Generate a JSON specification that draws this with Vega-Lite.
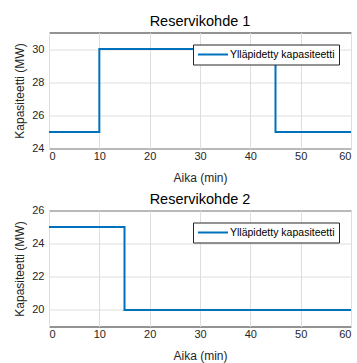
{
  "$schema": "https://vega.github.io/schema/vega-lite/v6.json",
  "background": "white",
  "padding": {"left": 13, "top": 12.5, "right": 0, "bottom": 0},
  "spacing": 7,
  "config": {
    "font": "Liberation Sans",
    "view": {"stroke": "#262626", "strokeWidth": 1},
    "axis": {
      "labelFont": "Liberation Sans",
      "labelFontSize": 11,
      "labelColor": "#262626",
      "titleFont": "Liberation Sans",
      "titleFontSize": 12,
      "titleFontWeight": "normal",
      "titleColor": "#262626",
      "gridColor": "#dedede",
      "gridOpacity": 1,
      "domain": false,
      "ticks": false
    },
    "axisX": {"titlePadding": 11, "labelPadding": 2},
    "axisY": {"titlePadding": 5, "labelPadding": 5},
    "title": {"font": "Liberation Sans", "fontSize": 14.5, "fontWeight": "normal", "color": "#000000", "frame": "group", "anchor": "middle"},
    "legend": {
      "orient": "top-right",
      "offset": 12,
      "title": null,
      "strokeColor": "#262626",
      "fillColor": "white",
      "padding": 4,
      "cornerRadius": 0,
      "symbolType": "M-1,0H5",
      "symbolSize": 100,
      "symbolStrokeWidth": 2,
      "labelOffset": 21,
      "labelFont": "Liberation Sans",
      "labelFontSize": 10.5,
      "labelColor": "#000000"
    }
  },
  "data": {
    "values": [
      {"kohde": 1, "aika": 0, "kapasiteetti": 25},
      {"kohde": 1, "aika": 10, "kapasiteetti": 30},
      {"kohde": 1, "aika": 45, "kapasiteetti": 25},
      {"kohde": 1, "aika": 60, "kapasiteetti": 25},
      {"kohde": 2, "aika": 0, "kapasiteetti": 25},
      {"kohde": 2, "aika": 15, "kapasiteetti": 20},
      {"kohde": 2, "aika": 60, "kapasiteetti": 20}
    ]
  },
  "vconcat": [
    {
      "title": {"text": "Reservikohde 1", "offset": 3.5},
      "width": 302,
      "height": 116,
      "transform": [{"filter": "datum.kohde == 1"}],
      "mark": {"type": "line", "interpolate": "step-after", "strokeWidth": 2},
      "encoding": {
        "x": {"field": "aika", "type": "quantitative", "scale": {"domain": [0, 60], "nice": false}, "axis": {"values": [0, 10, 20, 30, 40, 50, 60], "title": "Aika (min)"}},
        "y": {"field": "kapasiteetti", "type": "quantitative", "scale": {"domain": [24, 31], "nice": false, "zero": false}, "axis": {"values": [24, 26, 28, 30], "title": "Kapasiteetti (MW)"}},
        "color": {"datum": "Ylläpidetty kapasiteetti", "type": "nominal", "scale": {"range": ["#0072BD"]}}
      }
    },
    {
      "title": {"text": "Reservikohde 2", "offset": -3},
      "width": 302,
      "height": 116,
      "transform": [{"filter": "datum.kohde == 2"}],
      "mark": {"type": "line", "interpolate": "step-after", "strokeWidth": 2},
      "encoding": {
        "x": {"field": "aika", "type": "quantitative", "scale": {"domain": [0, 60], "nice": false}, "axis": {"values": [0, 10, 20, 30, 40, 50, 60], "title": "Aika (min)"}},
        "y": {"field": "kapasiteetti", "type": "quantitative", "scale": {"domain": [19, 26], "nice": false, "zero": false}, "axis": {"values": [20, 22, 24, 26], "title": "Kapasiteetti (MW)"}},
        "color": {"datum": "Ylläpidetty kapasiteetti", "type": "nominal", "scale": {"range": ["#0072BD"]}}
      }
    }
  ],
  "resolve": {"scale": {"color": "independent"}, "legend": {"color": "independent"}}
}
